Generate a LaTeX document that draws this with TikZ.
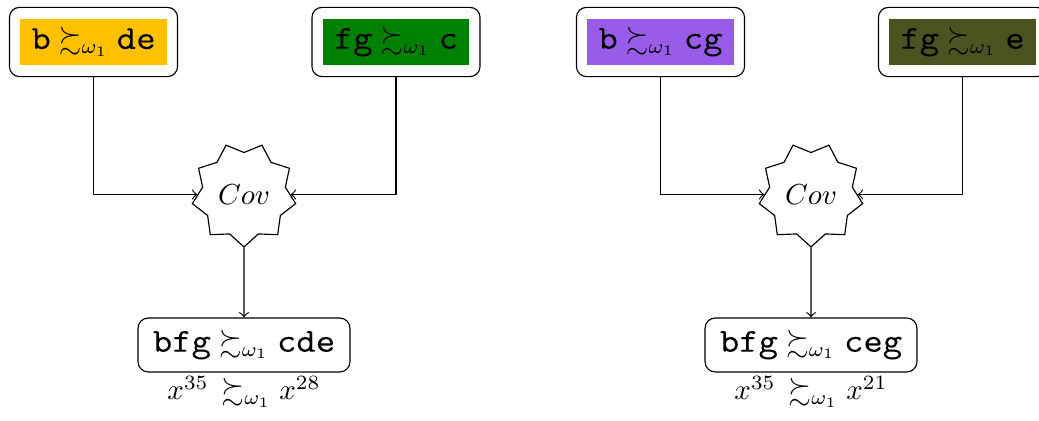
\documentclass[tikz,border=0pt]{standalone}
\usepackage{amssymb}
\usepackage{fontspec}
\newfontfamily\ttheavy{Latin Modern Mono}[FakeBold=0.05]
\usetikzlibrary{shapes.geometric,fit}
\definecolor{cOrange}{RGB}{255,192,0}
\definecolor{cGreen}{RGB}{0,128,0}
\definecolor{cPurple}{RGB}{153,92,232}
\definecolor{cOlive}{RGB}{75,83,32}
\newcommand\ttx[1]{\mbox{\scalebox{1.12}[1]{\fontsize{11.6}{14}\selectfont\ttheavy #1}}}
\begin{document}
\begin{tikzpicture}[x=0.345pt,y=-0.345pt,
  inbox/.style={minimum width=50.7pt,minimum height=15.9pt,inner sep=0pt},
  outbox/.style={draw,rounded corners=3.5pt,inner xsep=3.45pt,inner ysep=3.8pt},
  resbox/.style={draw,rounded corners=3.5pt,minimum width=73.1pt,minimum height=18.6pt,inner sep=0pt},
  cov/.style={draw,star,star points=9,star point ratio=1.25,shape border rotate=180,minimum size=36.2pt,inner sep=0pt},
  conn/.style={->}]
\useasboundingbox (0,0) rectangle (1039,421);
% left group
\node[inbox,fill=cOrange] (ai) at (93.5,42) {$\ttx{b} \succsim_{\omega_1} \ttx{de}$};
\node[outbox,fit=(ai)] (a) {};
\node[inbox,fill=cGreen] (bi) at (396,42) {$\ttx{fg} \succsim_{\omega_1} \ttx{c}$};
\node[outbox,fit=(bi)] (b) {};
\node[cov] (s1) at (244,194.5) {$Cov$};
\node[resbox] (c) at (244,345) {$\ttx{bfg} \succsim_{\omega_1} \ttx{cde}$};
\node[anchor=base] (lc) at (244,400) {$x^{35}\,\succsim_{\omega_1} x^{28}$};
\draw[conn] (a) |- (s1);
\draw[conn] (b) |- (s1);
\draw[conn] (s1) -- (c);
% right group
\node[inbox,fill=cPurple] (di) at (660.5,42) {$\ttx{b} \succsim_{\omega_1} \ttx{cg}$};
\node[outbox,fit=(di)] (d) {};
\node[inbox,fill=cOlive] (ei) at (962.5,42) {$\ttx{fg} \succsim_{\omega_1} \ttx{e}$};
\node[outbox,fit=(ei)] (e) {};
\node[cov] (s2) at (811,194.5) {$Cov$};
\node[resbox] (f) at (811,345) {$\ttx{bfg} \succsim_{\omega_1} \ttx{ceg}$};
\node[anchor=base] (lf) at (811,400) {$x^{35}\,\succsim_{\omega_1} x^{21}$};
\draw[conn] (d) |- (s2);
\draw[conn] (e) |- (s2);
\draw[conn] (s2) -- (f);
\end{tikzpicture}
\end{document}
